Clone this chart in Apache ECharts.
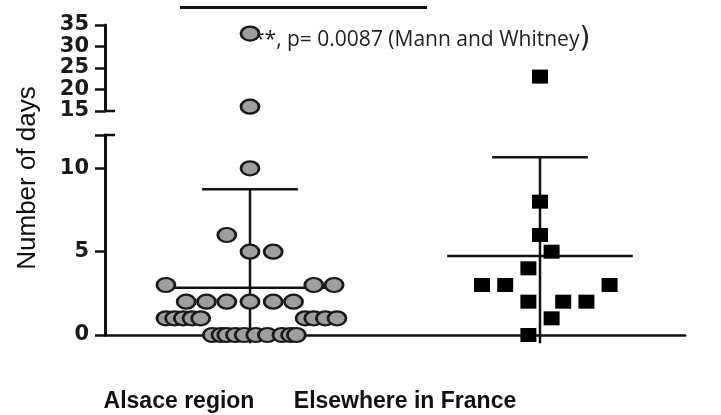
<!DOCTYPE html>
<html>
<head>
<meta charset="utf-8">
<script src="https://cdn.jsdelivr.net/npm/echarts@6/dist/echarts.min.js"></script>
<style>html,body{margin:0;padding:0;background:#fff}#main{width:721px;height:415px}</style>
</head>
<body>
<div id="main"></div>
<script>
// groups and read-off values
var groups = ['Alsace region', 'Elsewhere in France'];
var alsaceDays = [33, 16, 10, 6, 5, 5, 3, 3, 3, 2, 2, 2, 2, 2, 2,
  1, 1, 1, 1, 1, 1, 1, 1, 1, 0, 0, 0, 0, 0, 0, 0, 0, 0, 0];
// horizontal scatter position of each dot (group centre = 1)
var alsaceX = [1.0, 1.0, 1.0, 0.92, 1.0, 1.08, 0.71, 1.22, 1.29,
  0.78, 0.85, 0.92, 1.0, 1.08, 1.15,
  0.71, 0.74, 0.77, 0.80, 0.83, 1.19, 1.22, 1.26, 1.30,
  0.87, 0.90, 0.92, 0.95, 0.98, 1.02, 1.06, 1.11, 1.14, 1.16];
var elsewhereDays = [23, 8, 6, 5, 4, 3, 3, 3, 2, 2, 2, 1, 0];
var elsewhereX = [2.0, 2.0, 2.0, 2.04, 1.96, 1.80, 1.88, 2.24, 1.96, 2.08, 2.16, 2.04, 1.96];
var groupMean = [2.84, 4.74];
var groupSd = [5.90, 5.92];
var upperTicks = [15, 20, 25, 30, 35];
var lowerTicks = [0, 5, 10];
var breakAt = 15;
var pText = '**, p= 0.0087 (Mann and Whitney';

var chart = echarts.init(document.getElementById('main'));

function split(days, xs, upper) {
  var out = [];
  for (var i = 0; i < days.length; i++) {
    if ((days[i] >= breakAt) === upper) out.push([xs[i], days[i]]);
  }
  return out;
}

var ink = '#111';
var tickFont = { fontFamily: 'DejaVu Sans', fontSize: 21, fontWeight: 'bold', color: '#1a1a1a', margin: 16,
  showMinLabel: true, showMaxLabel: true, hideOverlap: false };

function yAx(idx, min, max, ticks) {
  return {
    type: 'value', gridIndex: idx, min: min, max: max, interval: 5,
    axisLine: { show: true, lineStyle: { color: ink, width: 3 } },
    axisTick: { show: true, length: 10, lineStyle: { color: ink, width: 2.5 } },
    axisLabel: Object.assign({
      formatter: function (v) { return ticks.indexOf(v) >= 0 ? String(v) : ''; }
    }, tickFont),
    splitLine: { show: false }
  };
}

function xAx(idx, show) {
  return {
    type: 'value', gridIndex: idx, min: 0.5, max: 2.5,
    axisLine: { show: show, onZero: false, lineStyle: { color: ink, width: 2.5 } },
    axisTick: { show: false }, axisLabel: { show: false }, splitLine: { show: false }
  };
}

function renderErr(params, api) {
  var x = api.value(0), m = api.value(1), sd = api.value(2);
  var top = api.coord([x, m + sd]);
  var bot = api.coord([x, Math.max(m - sd, -0.5)]);
  var capL = api.coord([x - 0.165, m + sd]), capR = api.coord([x + 0.165, m + sd]);
  var mL = api.coord([x - 0.32, m]), mR = api.coord([x + 0.32, m]);
  var st = { stroke: ink, lineWidth: 2.5 };
  return {
    type: 'group', children: [
      { type: 'line', shape: { x1: top[0], y1: top[1], x2: bot[0], y2: bot[1] }, style: st },
      { type: 'line', shape: { x1: capL[0], y1: capL[1], x2: capR[0], y2: capR[1] }, style: st },
      { type: 'line', shape: { x1: mL[0], y1: mL[1], x2: mR[0], y2: mR[1] }, style: st }
    ]
  };
}

var circleStyle = { color: '#9e9e9e', borderColor: '#1a1a1a', borderWidth: 2.5, opacity: 1 };
var squareStyle = { color: '#000', opacity: 1 };

var option = {
  animation: false,
  backgroundColor: '#fff',
  grid: [
    { left: 105, width: 580, top: 25, height: 86 },
    { left: 105, width: 580, top: 135, height: 200 }
  ],
  xAxis: [xAx(0, false), xAx(1, true)],
  yAxis: [yAx(0, 15, 35, upperTicks), yAx(1, 0, 12, lowerTicks)],
  series: [
    {
      type: 'custom', xAxisIndex: 1, yAxisIndex: 1, clip: false, z: 3,
      renderItem: renderErr,
      data: groupMean.map(function (m, i) { return [i + 1, m, groupSd[i]]; })
    },
    { type: 'scatter', xAxisIndex: 1, yAxisIndex: 1, z: 5, symbol: 'circle', symbolSize: [18, 14],
      itemStyle: circleStyle, data: split(alsaceDays, alsaceX, false) },
    { type: 'scatter', xAxisIndex: 0, yAxisIndex: 0, z: 5, symbol: 'circle', symbolSize: [18, 14],
      itemStyle: circleStyle, data: split(alsaceDays, alsaceX, true) },
    { type: 'scatter', xAxisIndex: 1, yAxisIndex: 1, z: 5, symbol: 'rect', symbolSize: [16, 14],
      itemStyle: squareStyle, data: split(elsewhereDays, elsewhereX, false) },
    { type: 'scatter', xAxisIndex: 0, yAxisIndex: 0, z: 5, symbol: 'rect', symbolSize: [16, 14],
      itemStyle: squareStyle, data: split(elsewhereDays, elsewhereX, true) }
  ],
  graphic: [
    // y-axis title
    { type: 'text', x: 28, y: 178, rotation: Math.PI / 2, z: 10,
      style: { text: 'Number of days', font: '26px "Liberation Sans"', fill: ink, align: 'center', verticalAlign: 'middle' } },
    // category labels
    { type: 'text', x: 179, y: 402, z: 10,
      style: { text: groups[0], font: 'bold 23px "Liberation Sans"', fill: ink, align: 'center', verticalAlign: 'middle' } },
    { type: 'text', x: 405, y: 402, z: 10,
      style: { text: groups[1], font: 'bold 23px "Liberation Sans"', fill: ink, align: 'center', verticalAlign: 'middle' } },
    // significance
    { type: 'line', z: 1, shape: { x1: 180, y1: 7.5, x2: 427, y2: 7.5 }, style: { stroke: ink, lineWidth: 3 } },
    { type: 'text', x: 253, y: 40, z: 1,
      style: { text: '{a|' + pText + '}{b|)}', verticalAlign: 'middle',
        rich: { a: { font: '21px "Open Sans"', fill: '#222' }, b: { font: '28px "DejaVu Sans"', fill: '#222' } } } },
    // axis break caps
    { type: 'line', z: 10, shape: { x1: 104, y1: 111, x2: 115, y2: 111 }, style: { stroke: ink, lineWidth: 2.5 } },
    { type: 'line', z: 10, shape: { x1: 104, y1: 135, x2: 115, y2: 135 }, style: { stroke: ink, lineWidth: 2.5 } }
  ]
};

chart.setOption(option);
</script>
</body>
</html>
